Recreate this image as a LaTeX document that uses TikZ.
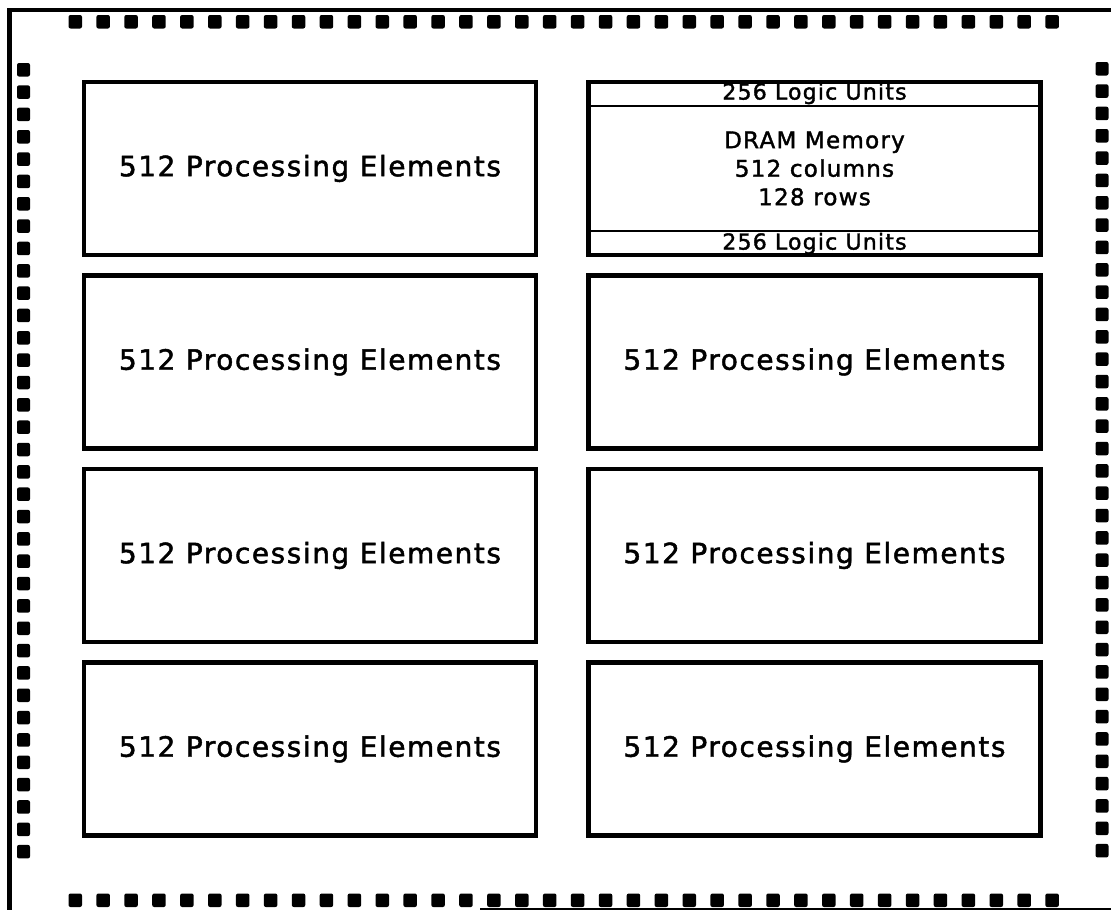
\documentclass[tikz,border=0pt]{standalone}
\usepackage{fontspec}
\setmainfont[LetterSpace=5.5,FakeBold=1.6]{DejaVu Sans}
\usepackage{tikz}
\usetikzlibrary{positioning}
\tikzset{
  peblock/.style={draw=black, line width=4.5pt, minimum width=452pt,
    minimum height=173pt, align=center, inner sep=0pt,
    font=\fontsize{28}{33}\selectfont},
  logicband/.style={draw=black, line width=2.5pt, minimum width=452pt,
    minimum height=25pt, inner sep=0pt, font=\fontsize{22}{25}\selectfont},
  pad/.style={fill=black, rounded corners=2pt},
  frameline/.style={line width=4.5pt, line cap=rect}
}
\begin{document}
\begin{tikzpicture}[x=1pt, y=-1pt]
\useasboundingbox[fill=white] (0,0) rectangle (1111,910);
% chip outline
\coordinate (ftl) at (9.5,10);
\coordinate (ftr) at (1111,10);
\coordinate (fbl) at (9.5,910);
\coordinate (fbr) at (1111,909);
\coordinate (fbm) at (480,909);
\draw[frameline] (ftr) -- (ftl) -- (fbl);
\draw[line width=2pt] (fbm) -- (fbr);
% bond pads
\foreach \i in {0,...,35} {
  \fill[pad] ({68.5+\i*27.91},15) rectangle +(13.5,13.5);
  \fill[pad] ({68.5+\i*27.91},893.5) rectangle +(13.5,13.5);
  \fill[pad] (17,{63+\i*22.34}) rectangle +(13,13.5);
  \fill[pad] (1095.5,{62+\i*22.34}) rectangle +(13,13.5);
}
% blocks
\node[peblock] (pe11) at (310,168.5) {512 Processing Elements};
\node[peblock, right=48pt of pe11,
  font=\fontsize{23}{28.5}\selectfont] (dram) {DRAM Memory\\512 columns\\128 rows};
\node[logicband, anchor=north] (lutop) at (dram.north) {256 Logic Units};
\node[logicband, anchor=south] (lubot) at (dram.south) {256 Logic Units};
\node[peblock, below=16pt of pe11] (pe21) {512 Processing Elements};
\node[peblock, below=16pt of dram] (pe22) {512 Processing Elements};
\node[peblock, below=16pt of pe21] (pe31) {512 Processing Elements};
\node[peblock, below=16pt of pe22] (pe32) {512 Processing Elements};
\node[peblock, below=16pt of pe31] (pe41) {512 Processing Elements};
\node[peblock, below=16pt of pe32] (pe42) {512 Processing Elements};
\end{tikzpicture}
\end{document}
